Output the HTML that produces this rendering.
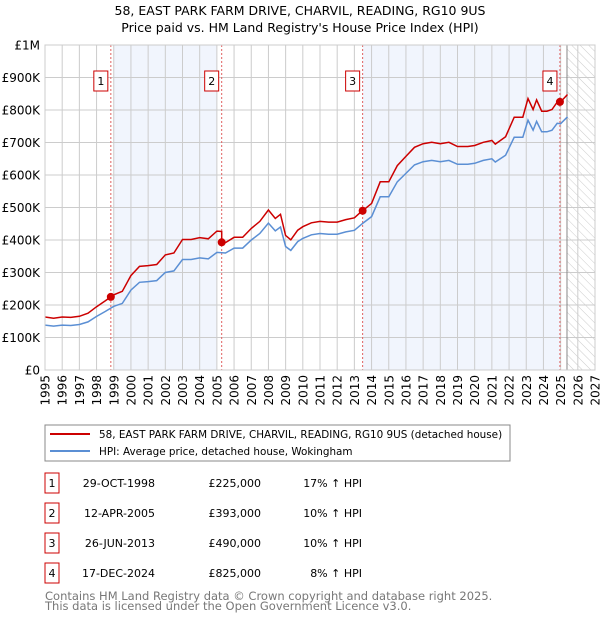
<!DOCTYPE html>
<html><head><meta charset="utf-8"><style>
body{margin:0;background:#fff;width:600px;height:620px;overflow:hidden;font-family:"DejaVu Sans","Liberation Sans",sans-serif}
svg text{font-family:"DejaVu Sans","Liberation Sans",sans-serif}
</style></head><body>
<svg id="c" width="600" height="620">
<defs><pattern id="hatch" width="6" height="6" patternUnits="userSpaceOnUse" patternTransform="rotate(-45)"><line x1="0" y1="0" x2="0" y2="6" stroke="#ccc" stroke-width="1"/></pattern></defs>
<text x="300" y="15" text-anchor="middle" font-size="12.5">58, EAST PARK FARM DRIVE, CHARVIL, READING, RG10 9US</text>
<text x="300" y="32" text-anchor="middle" font-size="12.5">Price paid vs. HM Land Registry's House Price Index (HPI)</text>
<g id="plot"></g>
<rect x="45" y="425" width="465" height="36" fill="none" stroke="#888"/>
<line x1="50" y1="434" x2="90" y2="434" stroke="#cc0000" stroke-width="2"/>
<text x="99" y="438" font-size="10.4">58, EAST PARK FARM DRIVE, CHARVIL, READING, RG10 9US (detached house)</text>
<line x1="50" y1="451" x2="90" y2="451" stroke="#5b8fd4" stroke-width="2"/>
<text x="99" y="455" font-size="10.4">HPI: Average price, detached house, Wokingham</text>
<g id="table" font-size="11"></g>
<text x="45" y="600" font-size="11.5" fill="#777">Contains HM Land Registry data © Crown copyright and database right 2025.</text>
<text x="45" y="610" font-size="11.5" fill="#777">This data is licensed under the Open Government Licence v3.0.</text>
</svg>
<script>
const hpiYears=[1995,1995.5,1996,1996.5,1997,1997.5,1998,1998.5,1999,1999.5,2000,2000.5,2001,2001.5,2002,2002.5,2003,2003.5,2004,2004.5,2005,2005.5,2006,2006.5,2007,2007.5,2008,2008.4,2008.7,2009,2009.3,2009.7,2010,2010.5,2011,2011.5,2012,2012.5,2013,2013.5,2014,2014.5,2015,2015.5,2016,2016.5,2017,2017.5,2018,2018.5,2019,2019.3,2019.6,2020,2020.5,2021,2021.2,2021.8,2022.3,2022.8,2023.1,2023.4,2023.6,2023.9,2024.2,2024.5,2024.8,2025,2025.4];
const hpiValues=[138,135,138,137,140,148,165,180,196,205,246,270,272,275,300,305,340,340,345,342,362,360,375,375,400,420,452,428,440,380,368,395,405,416,420,418,418,425,430,452,472,533,533,579,605,631,641,645,641,645,633,633,633,636,645,650,640,661,716,716,769,738,765,733,733,738,759,758,779];
const saleLabels=["1","2","3","4"];
const saleDates=["29-OCT-1998","12-APR-2005","26-JUN-2013","17-DEC-2024"];
const saleYears=[1998.83,2005.28,2013.48,2024.96];
const salePrices=[225,393,490,825];
const salePct=["17% \u2191 HPI","10% \u2191 HPI","10% \u2191 HPI","8% \u2191 HPI"];
const yTicks=[0,100,200,300,400,500,600,700,800,900,1000];
const yTickLabels=["£0","£100K","£200K","£300K","£400K","£500K","£600K","£700K","£800K","£900K","£1M"];
const xTicks=[1995,1996,1997,1998,1999,2000,2001,2002,2003,2004,2005,2006,2007,2008,2009,2010,2011,2012,2013,2014,2015,2016,2017,2018,2019,2020,2021,2022,2023,2024,2025,2026,2027];

const X0=45,X1=595,Y0=370,Y1=45;
const xs=y=>X0+(y-1995)/(2027-1995)*(X1-X0);
const ys=v=>Y0-v/1000*(Y0-Y1);
const NS="http://www.w3.org/2000/svg";
const plot=document.getElementById('plot');
function mk(tag,attrs,parent){const e=document.createElementNS(NS,tag);for(const k in attrs)e.setAttribute(k,attrs[k]);(parent||plot).appendChild(e);return e;}
function hpiAt(t){for(let i=0;i<hpiYears.length-1;i++){if(t<=hpiYears[i+1]){const f=(t-hpiYears[i])/(hpiYears[i+1]-hpiYears[i]);return hpiValues[i]+f*(hpiValues[i+1]-hpiValues[i]);}}return hpiValues[hpiValues.length-1];}

let e;
e=mk('rect',{x:xs(1999),y:Y1,width:xs(2005)-xs(1999),height:Y0-Y1,fill:'#eef3fc',opacity:0.8});


e=mk('rect',{x:xs(saleYears[2]),y:Y1,width:xs(saleYears[3])-xs(saleYears[2]),height:Y0-Y1,fill:'#eef3fc',opacity:0.8});


const hx=xs(2025.37);
e=mk('rect',{x:hx,y:Y1,width:X1-hx,height:Y0-Y1,fill:'url(#hatch)'});


yTicks.forEach((v,i)=>{
 e=mk('line',{x1:X0,x2:X1,y1:ys(v),y2:ys(v),stroke:'#ccc'});
 
 
 e=mk('text',{x:X0-5,y:ys(v)+4.5,'text-anchor':'end','font-size':12});
 e.textContent=yTickLabels[i];
 
 
});
xTicks.forEach(t=>{
 e=mk('line',{x1:xs(t),x2:xs(t),y1:Y1,y2:Y0,stroke:'#ccc'});
 
 
 e=mk('text',{x:0,y:0,'font-size':12,'text-anchor':'end',transform:`translate(${xs(t)+4.5},${Y0+5}) rotate(-90)`});
 e.textContent=t;
 
 
});
e=mk('line',{x1:hx,x2:hx,y1:Y1,y2:Y0,stroke:'#888'});


saleYears.forEach((t,i)=>{
 e=mk('line',{x1:xs(t),x2:xs(t),y1:Y1,y2:Y0,stroke:'#e06060','stroke-dasharray':'2,2'});
 
 
});
let d=hpiYears.map((t,i)=>(i?'L':'M')+xs(t).toFixed(1)+','+ys(hpiValues[i]).toFixed(1)).join('');
e=mk('path',{d:d,fill:'none',stroke:'#5b8fd4','stroke-width':1.5});


function redAt(t){let k=0;for(let i=0;i<saleYears.length;i++)if(t>=saleYears[i])k=i;return salePrices[k]*hpiAt(t)/hpiAt(saleYears[k]);}
let pts=[];
hpiYears.forEach(t=>pts.push(t));saleYears.forEach(t=>{pts.push(t-0.001);pts.push(t);});
pts.sort((a,b)=>a-b);
d=pts.map((t,i)=>(i?'L':'M')+xs(t).toFixed(1)+','+ys(redAt(t)).toFixed(1)).join('');
e=mk('path',{d:d,fill:'none',stroke:'#cc0000','stroke-width':1.5});


saleYears.forEach((t,i)=>{
 e=mk('circle',{cx:xs(t),cy:ys(salePrices[i]),r:4,fill:'#cc0000'});
 
 
 e=mk('rect',{x:xs(t)-17,y:71,width:14,height:20,fill:'#fff',stroke:'#cc0000'});
 
 
 e=mk('text',{x:xs(t)-10,y:85,'text-anchor':'middle','font-size':11});
 e.textContent=saleLabels[i];
 
 
});
mk('rect',{x:X0,y:Y1,width:X1-X0,height:Y0-Y1,fill:'none',stroke:'#ccc'});
const tb=document.getElementById('table');
saleLabels.forEach((l,i)=>{
 const cy=483+i*30;
 e=mk('rect',{x:45,y:cy-10,width:14,height:20,fill:'#fff',stroke:'#cc0000'},tb);
 
 
 e=mk('text',{x:52,y:cy+4,'text-anchor':'middle'},tb);e.textContent=l;
 
 
 e=mk('text',{x:155,y:cy+4,'text-anchor':'end'},tb);e.textContent=saleDates[i];
 
 
 e=mk('text',{x:261,y:cy+4,'text-anchor':'end'},tb);e.textContent='£'+salePrices[i]+',000';
 
 
 e=mk('text',{x:362,y:cy+4,'text-anchor':'end'},tb);e.textContent=salePct[i];
 
 
});
</script>
</body></html>
